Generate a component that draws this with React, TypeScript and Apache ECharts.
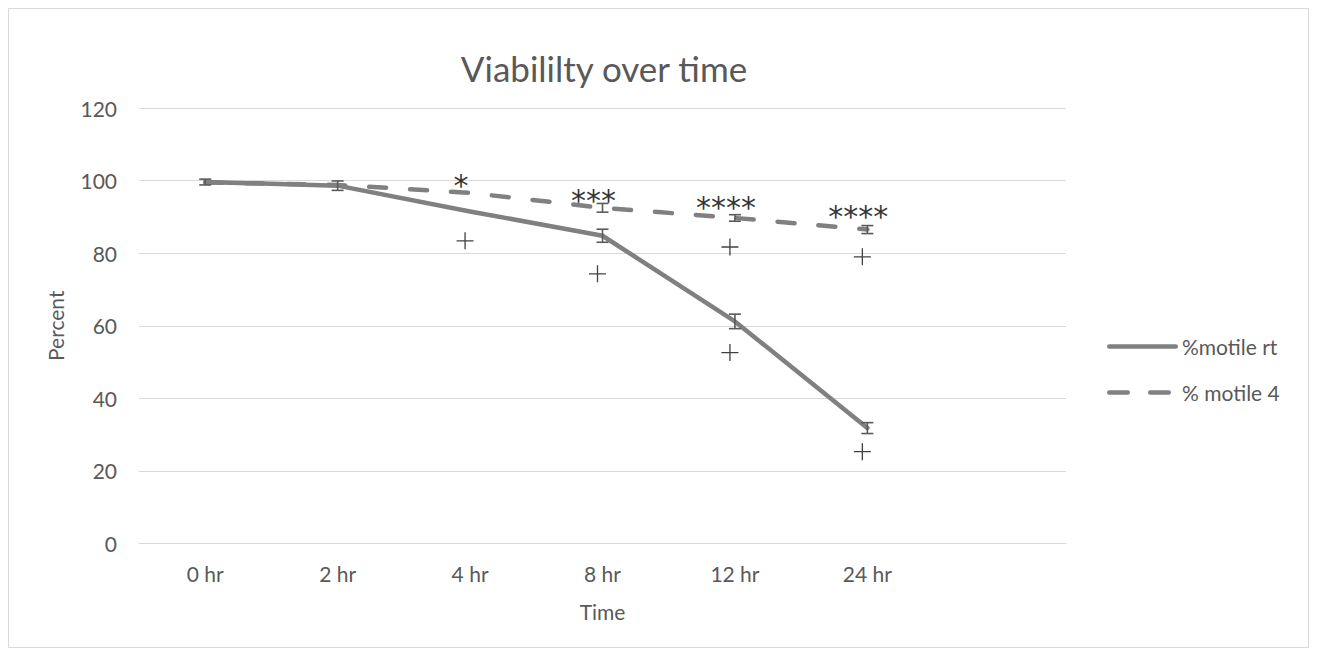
import React, { useEffect, useRef } from "react";
import * as echarts from "echarts";

const categories = ["0 hr", "2 hr", "4 hr", "8 hr", "12 hr", "24 hr", ""];
const motileRt = [99.6, 98.6, 91.5, 84.8, 61.2, 31.8, null];
const motile4 = [99.5, 98.8, 96.6, 92.5, 89.7, 86.5, null];
const errRt = [0.8, 1.3, 0, 1.8, 2.0, 1.5, null];
const err4 = [0, 0, 0, 1.2, 0.9, 1.1, null];
const plusMarks: [string, number][] = [
  ["4 hr", 83.4],
  ["8 hr", 74.3],
  ["12 hr", 81.7],
  ["12 hr", 52.6],
  ["24 hr", 79.0],
  ["24 hr", 25.3],
];
const starCats = ["4 hr", "8 hr", "12 hr", "24 hr"];
const starValues = [98.6, 94.6, 92.6, 90.1];
const starTexts = ["*", "***", "****", "****"];
const yTicks = { min: 0, max: 120, interval: 20 };

const FONT = "Lato";
const TXT = "#595959";
const LINE = "#808080";

const SOLID_ICON =
  "path://M2.25,0H68.75A2.25,2.25 0 0 1 68.75,4.5H2.25A2.25,2.25 0 0 1 2.25,0Z";
const DASH_ICON =
  "path://M2.25,0H20.75A2.25,2.25 0 0 1 20.75,4.5H2.25A2.25,2.25 0 0 1 2.25,0Z" +
  "M43.25,0H61.75A2.25,2.25 0 0 1 61.75,4.5H43.25A2.25,2.25 0 0 1 43.25,0Z" +
  "M71,0L71,4.5L71,0Z";

function errData(vals: (number | null)[], errs: (number | null)[]) {
  const out: number[][] = [];
  vals.forEach((v, i) => {
    const e = errs[i];
    if (v != null && e != null && e > 0) out.push([i, v - e, v + e]);
  });
  return out;
}

const errRender = (params: any, api: any) => {
  const x = api.value(0);
  const lo = api.coord([x, api.value(1)]);
  const hi = api.coord([x, api.value(2)]);
  const w = 6;
  const st = { stroke: "#5a5a5a", lineWidth: 1.6 };
  return {
    type: "group",
    children: [
      { type: "line", shape: { x1: lo[0], y1: lo[1], x2: hi[0], y2: hi[1] }, style: st },
      { type: "line", shape: { x1: lo[0] - w, y1: lo[1], x2: lo[0] + w, y2: lo[1] }, style: st },
      { type: "line", shape: { x1: hi[0] - w, y1: hi[1], x2: hi[0] + w, y2: hi[1] }, style: st },
    ],
  };
};

export default function App() {
  const ref = useRef<HTMLDivElement>(null);
  useEffect(() => {
    if (!ref.current) return;
    const chart = echarts.init(ref.current, undefined, { renderer: "svg" });
    chart.setOption({
      animation: false,
      graphic: [
        {
          type: "rect",
          shape: { x: 0.5, y: 0.5, width: 1300, height: 639 },
          style: { fill: "none", stroke: "#d9d9d9", lineWidth: 1 },
          silent: true,
        },
        {
          type: "text",
          x: 596,
          y: 60,
          style: {
            text: "Viabililty over time",
            fontFamily: FONT,
            fontSize: 35,
            fill: TXT,
            align: "center",
            verticalAlign: "middle",
          },
        },
      ],
      legend: {
        orient: "vertical",
        left: 1099,
        top: 328,
        itemWidth: 71,
        itemHeight: 4.5,
        itemGap: 25,
        padding: 0,
        textStyle: { fontFamily: FONT, fontSize: 21, color: TXT, padding: [0, 0, 0, -1] },
        data: [
          { name: "%motile rt", icon: SOLID_ICON, itemStyle: { color: LINE } },
          { name: "% motile 4", icon: DASH_ICON, itemStyle: { color: LINE } },
        ],
      },
      grid: { left: 131, right: 243, top: 100, bottom: 104.5, containLabel: false },
      xAxis: {
        type: "category",
        data: categories,
        boundaryGap: true,
        axisLine: { lineStyle: { color: "#d9d9d9", width: 1 } },
        axisTick: { show: false },
        axisLabel: { fontFamily: FONT, fontSize: 21, color: TXT, margin: 19 },
        name: "Time",
        nameLocation: "middle",
        nameGap: 57,
        nameTextStyle: { fontFamily: FONT, fontSize: 21, color: TXT },
      },
      yAxis: {
        type: "value",
        min: yTicks.min,
        max: yTicks.max,
        interval: yTicks.interval,
        axisLine: { show: false },
        axisTick: { show: false },
        splitLine: { lineStyle: { color: "#d9d9d9", width: 1 } },
        axisLabel: { fontFamily: FONT, fontSize: 21, color: TXT, margin: 22 },
        name: "Percent",
        nameLocation: "middle",
        nameGap: 73,
        nameTextStyle: { fontFamily: FONT, fontSize: 21, color: TXT },
      },
      series: [
        {
          name: "%motile rt",
          type: "line",
          data: motileRt,
          showSymbol: false,
          symbol: "none",
          lineStyle: { color: LINE, width: 4.5, cap: "round", join: "round" },
          itemStyle: { color: LINE },
          z: 3,
        },
        {
          name: "% motile 4",
          type: "line",
          data: motile4,
          showSymbol: false,
          symbol: "none",
          lineStyle: { color: LINE, width: 4.5, type: [17, 24], cap: "round", join: "round" },
          itemStyle: { color: LINE },
          z: 3,
        },
        {
          name: "errRt",
          type: "custom",
          renderItem: errRender,
          data: errData(motileRt, errRt),
          z: 4,
        },
        {
          name: "err4",
          type: "custom",
          renderItem: errRender,
          data: errData(motile4, err4),
          z: 4,
        },
        {
          name: "plus",
          type: "scatter",
          data: plusMarks,
          symbol: "path://M8.5,0V17M0,8.5H17",
          symbolSize: 17,
          symbolOffset: [-5, 0],
          itemStyle: { color: "rgba(0,0,0,0)", borderColor: "#111", borderWidth: 1.3 },
          z: 5,
        },
        {
          name: "stars",
          type: "scatter",
          data: starCats.map((c, i) => ({ value: [c, starValues[i]], star: starTexts[i] })),
          symbolSize: 0,
          label: {
            show: true,
            position: "inside",
            offset: [-9, 0],
            formatter: (p: any) => p.data.star,
            fontFamily: "DejaVu Sans",
            fontSize: 30,
            color: "#000",
          },
          z: 6,
        },
      ],
    });
    return () => chart.dispose();
  }, []);
  return <div ref={ref} style={{ width: 1301, height: 640 }} />;
}
